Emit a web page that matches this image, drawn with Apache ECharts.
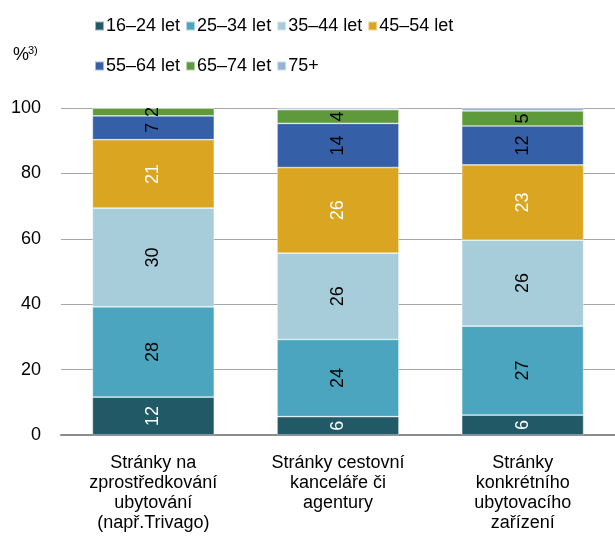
<!DOCTYPE html>
<html>
<head>
<meta charset="utf-8">
<script src="https://cdn.jsdelivr.net/npm/echarts@6/dist/echarts.min.js"></script>
<style>html,body{margin:0;padding:0;background:#fff;}#c{width:615px;height:543px;}</style>
</head>
<body>
<div id="c"></div>
<script>
const categories = [
  "Stránky na\nzprostředkování\nubytování\n(např.Trivago)",
  "Stránky cestovní\nkanceláře či\nagentury",
  "Stránky\nkonkrétního\nubytovacího\nzařízení"
];
const seriesNames = ["16–24 let", "25–34 let", "35–44 let", "45–54 let", "55–64 let", "65–74 let", "75+"];
const v16_24 = [11.6, 5.6, 6.1];
const v25_34 = [27.6, 23.6, 27.2];
const v35_44 = [30.2, 26.4, 26.3];
const v45_54 = [20.9, 26.2, 23.0];
const v55_64 = [7.3, 13.5, 11.9];
const v65_74 = [2.4, 4.2, 4.6];
const v75plus = [0, 0.5, 0.9];
const yTicks = [0, 20, 40, 60, 80, 100];

const values = [v16_24, v25_34, v35_44, v45_54, v55_64, v65_74, v75plus];
const colors = ["#215967", "#4BA5BE", "#A8CDDA", "#DAA521", "#3560A8", "#5E9A3C", "#95B3D7"];
const labelColors = ["#fff", "#000", "#000", "#fff", "#000", "#000", "#000"];
const FONT = "Liberation Sans, Arial, sans-serif";

const series = seriesNames.map((name, i) => ({
  name: name,
  type: "bar",
  stack: "total",
  barWidth: "66%",
  data: values[i],
  itemStyle: { color: colors[i], borderColor: "rgba(255,255,255,0.55)", borderWidth: 0.7 },
  label: {
    show: i < 6,
    position: "inside",
    rotate: 90,
    color: labelColors[i],
    fontSize: 18,
    fontFamily: FONT,
    formatter: p => String(Math.round(p.value))
  },
  emphasis: { disabled: true }
}));

const legendText = { fontSize: 18, fontFamily: FONT, color: "#000", padding: [0, 0, 0, -3] };
const chart = echarts.init(document.getElementById("c"), null, { renderer: "canvas" });
chart.setOption({
  animation: false,
  color: colors,
  textStyle: { fontFamily: FONT },
  legend: [
    {
      data: seriesNames.slice(0, 4),
      left: 89, top: 12,
      itemWidth: 9, itemHeight: 9, itemGap: 5,
      icon: "rect",
      textStyle: legendText,
      selectedMode: false
    },
    {
      data: seriesNames.slice(4),
      left: 89, top: 52,
      itemWidth: 9, itemHeight: 9, itemGap: 5,
      icon: "rect",
      textStyle: legendText,
      selectedMode: false
    }
  ],
  graphic: [
    { type: "text", left: 13, top: 46, style: { text: "%", fontSize: 18, fontFamily: FONT, fill: "#000" } },
    { type: "text", left: 28, top: 45, style: { text: "3)", fontSize: 11, fontFamily: FONT, fill: "#000" } }
  ],
  grid: { left: 61, right: 0, top: 108, bottom: 108, containLabel: false },
  xAxis: {
    type: "category",
    data: categories,
    axisLine: { lineStyle: { color: "#8C8C8C", width: 2 } },
    axisTick: { show: false },
    axisLabel: { fontSize: 18, fontFamily: FONT, color: "#000", lineHeight: 20, margin: 18, interval: 0 }
  },
  yAxis: {
    type: "value",
    min: 0, max: 100, interval: 20,
    axisLine: { show: false },
    axisTick: { show: false },
    axisLabel: {
      fontSize: 18, fontFamily: FONT, color: "#000", margin: 20,
      formatter: v => (yTicks.indexOf(v) >= 0 ? String(v) : "")
    },
    splitLine: { lineStyle: { color: "#A6A6A6", width: 1 } }
  },
  series: series
});
</script>
</body>
</html>
